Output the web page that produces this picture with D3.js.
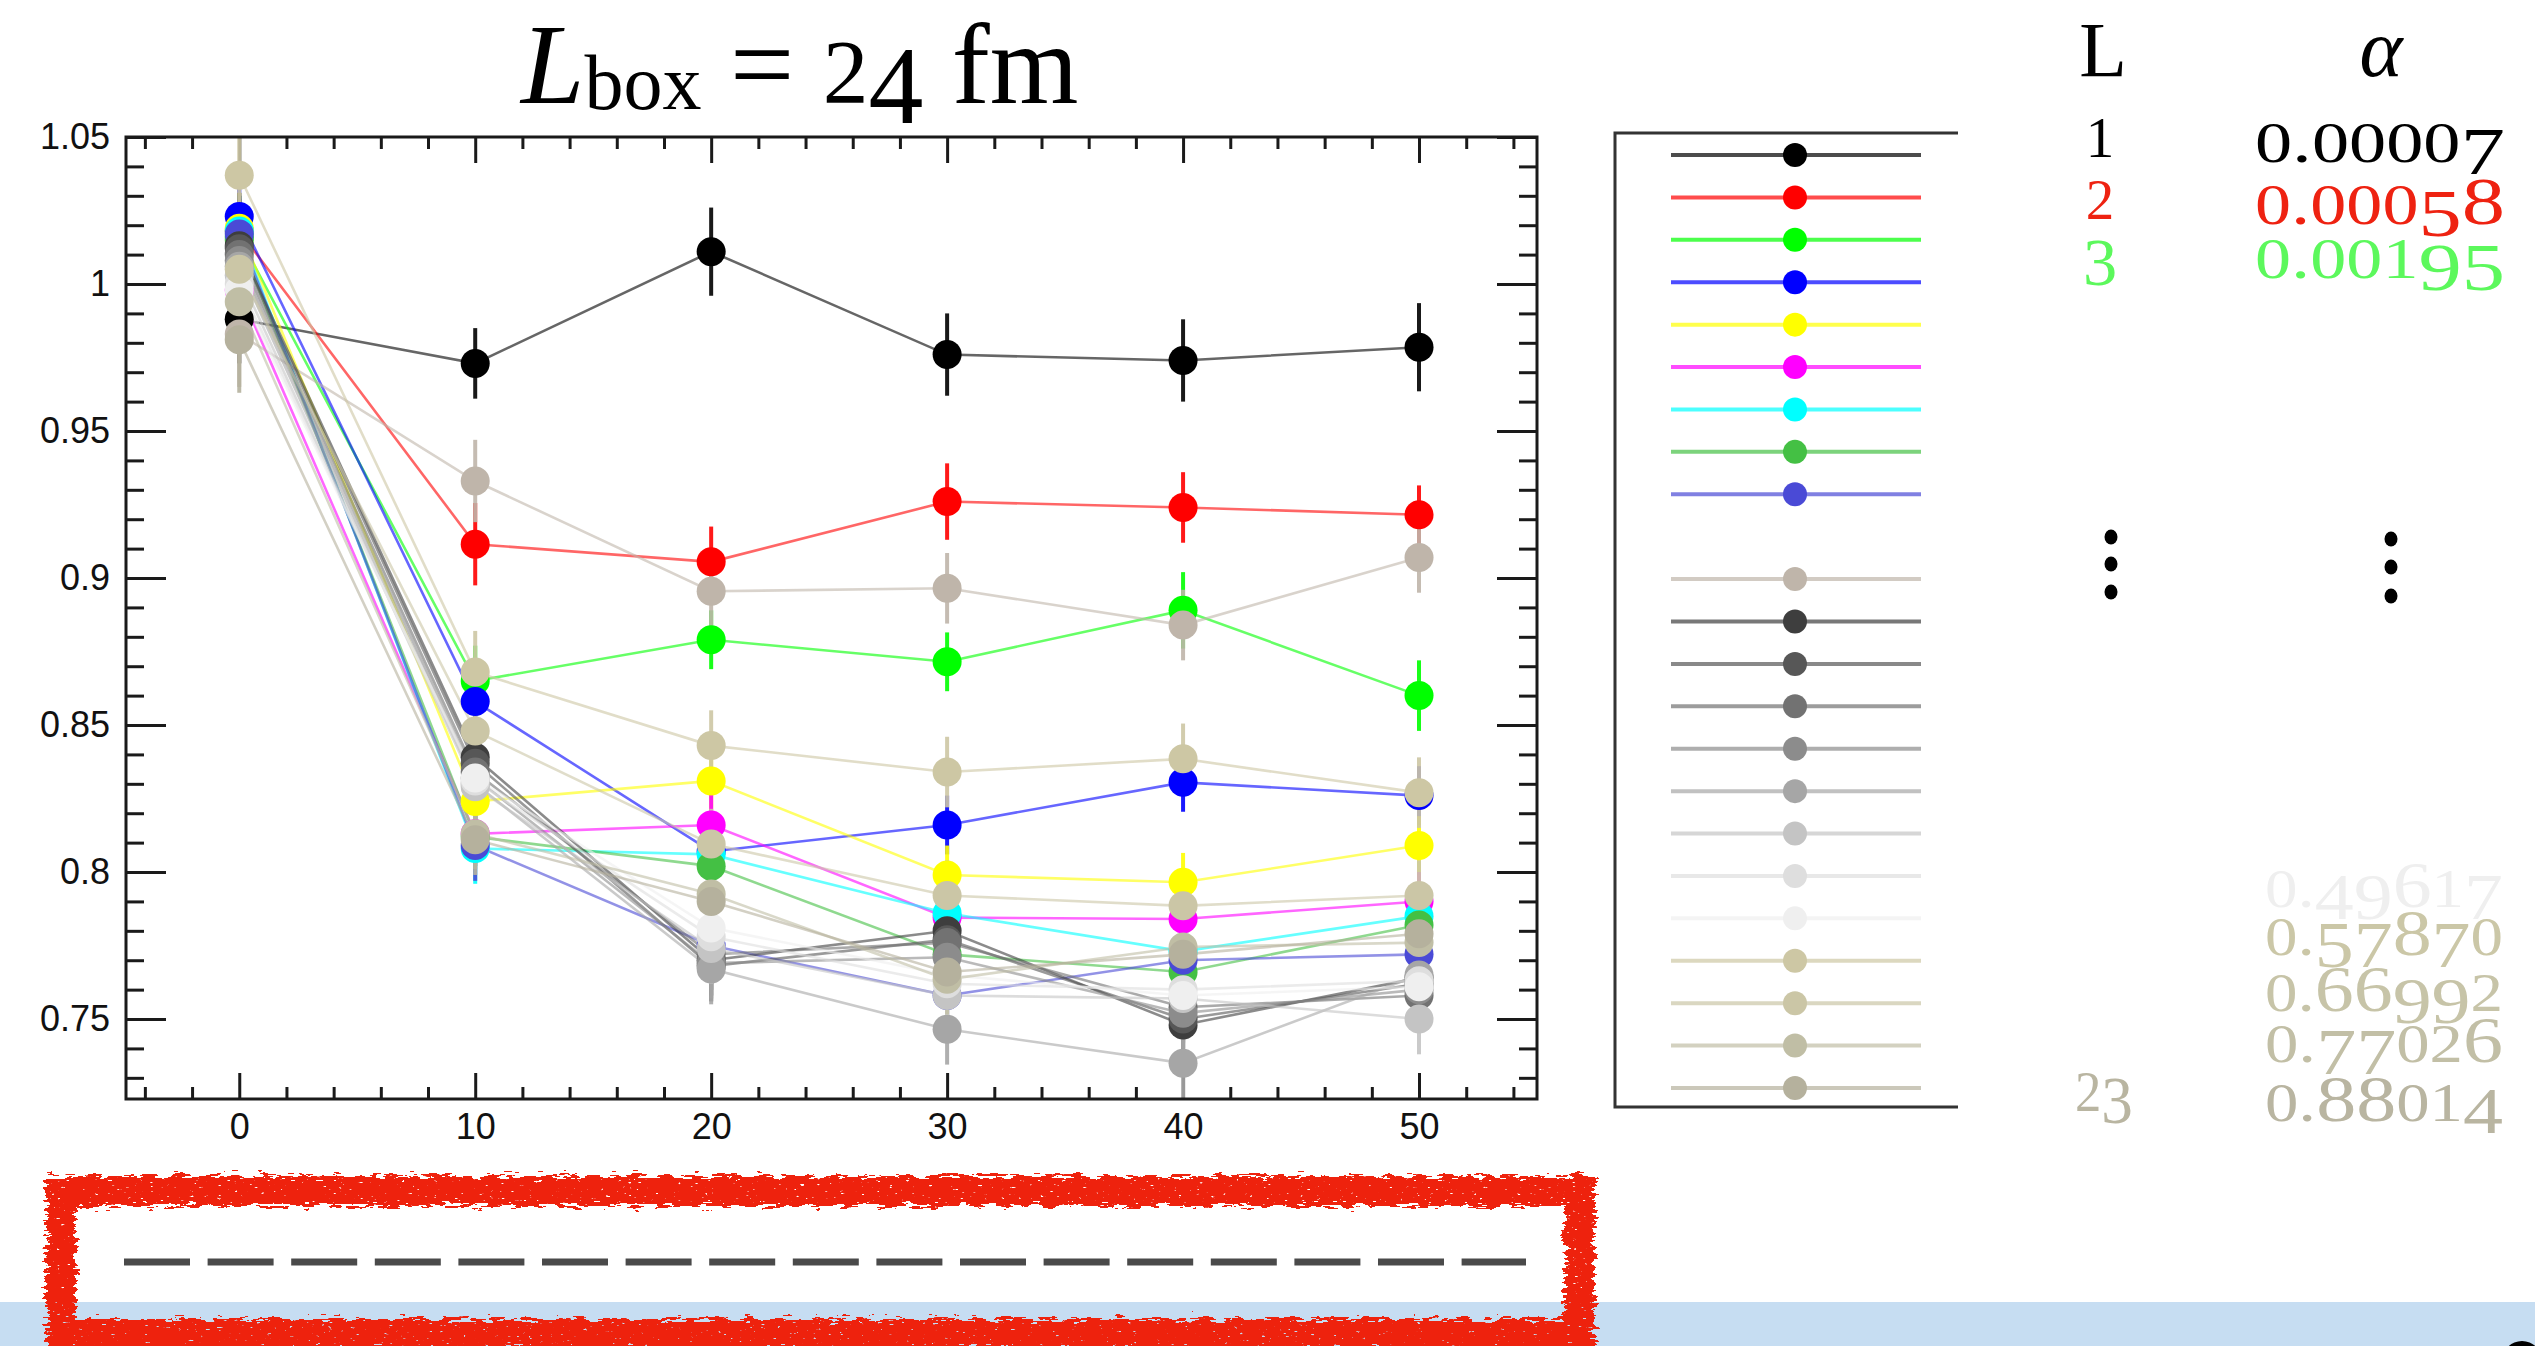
<!DOCTYPE html>
<html><head><meta charset="utf-8">
<script src="https://cdn.jsdelivr.net/npm/d3@7"></script>
<style>
html,body{margin:0;padding:0;background:#fff;overflow:hidden;}
svg{display:block;}
text{white-space:pre;}
</style></head>
<body>
<svg id="chart" width="2535" height="1346"></svg>
<script>
// ---------------- DATA ----------------
const xValues = [0, 10, 20, 30, 40, 50];
const seriesL = [1, 2, 3, 4, 5, 6, 7, 8, 9, 11, 12, 13, 14, 15, 16, 17, 18, 19, 20, 21, 22, 23];
const seriesColors = [
  "#000000", "#ff0000", "#00ff00", "#0000ff", "#ffff00", "#ff00ff", "#00ffff", "#44c044", "#4a4ad6",
  "#bfb5aa", "#3e3e3e", "#575757", "#727272", "#8c8c8c", "#a6a6a6", "#c4c4c4", "#dedede", "#efefef",
  "#cdc7a4", "#cbc6a6", "#c0bea5", "#b5b19d"
];
const seriesValues = [
  [0.988, 0.973, 1.011, 0.976, 0.974, 0.9785],
  [1.018, 0.9115, 0.9055, 0.926, 0.924, 0.9215],
  [1.016, 0.865, 0.879, 0.8715, 0.889, 0.860],
  [1.023, 0.858, 0.807, 0.816, 0.8305, 0.826],
  [1.019, 0.824, 0.831, 0.799, 0.7965, 0.809],
  [0.998, 0.813, 0.816, 0.7845, 0.784, 0.790],
  [1.018, 0.808, 0.806, 0.786, 0.773, 0.785],
  [1.015, 0.812, 0.802, 0.772, 0.766, 0.782],
  [1.017, 0.809, 0.775, 0.758, 0.770, 0.772],
  [0.983, 0.933, 0.8955, 0.8965, 0.884, 0.907],
  [1.013, 0.839, 0.770, 0.780, 0.748, 0.764],
  [1.012, 0.837, 0.768, 0.777, 0.750, 0.762],
  [1.010, 0.834, 0.772, 0.776, 0.754, 0.758],
  [1.008, 0.832, 0.769, 0.771, 0.752, 0.760],
  [1.006, 0.830, 0.767, 0.7465, 0.735, 0.765],
  [1.003, 0.829, 0.774, 0.758, 0.757, 0.750],
  [1.000, 0.831, 0.778, 0.762, 0.760, 0.763],
  [0.998, 0.832, 0.781, 0.765, 0.758, 0.761],
  [1.037, 0.868, 0.843, 0.834, 0.8385, 0.827],
  [1.005, 0.848, 0.8095, 0.792, 0.7885, 0.792],
  [0.994, 0.813, 0.7925, 0.7635, 0.7745, 0.776],
  [0.981, 0.811, 0.790, 0.766, 0.772, 0.779]
];
const seriesErrors = [
  [0.015, 0.012, 0.015, 0.014, 0.014, 0.015],
  [0.012, 0.014, 0.012, 0.013, 0.012, 0.010],
  [0.012, 0.012, 0.010, 0.010, 0.013, 0.012],
  [0.012, 0.011, 0.010, 0.010, 0.010, 0.010],
  [0.012, 0.010, 0.010, 0.010, 0.010, 0.010],
  [0.012, 0.010, 0.012, 0.010, 0.010, 0.010],
  [0.012, 0.012, 0.010, 0.010, 0.010, 0.010],
  [0.012, 0.010, 0.010, 0.010, 0.010, 0.010],
  [0.012, 0.012, 0.010, 0.010, 0.010, 0.010],
  [0.018, 0.014, 0.012, 0.012, 0.012, 0.012],
  [0.018, 0.012, 0.012, 0.012, 0.012, 0.012],
  [0.018, 0.012, 0.012, 0.012, 0.012, 0.012],
  [0.018, 0.012, 0.012, 0.012, 0.012, 0.012],
  [0.018, 0.012, 0.012, 0.012, 0.012, 0.012],
  [0.018, 0.012, 0.012, 0.012, 0.012, 0.012],
  [0.018, 0.012, 0.012, 0.012, 0.012, 0.012],
  [0.018, 0.012, 0.012, 0.012, 0.012, 0.012],
  [0.018, 0.012, 0.012, 0.012, 0.012, 0.012],
  [0.015, 0.014, 0.012, 0.012, 0.012, 0.012],
  [0.018, 0.012, 0.012, 0.012, 0.012, 0.012],
  [0.018, 0.012, 0.012, 0.012, 0.012, 0.012],
  [0.018, 0.012, 0.012, 0.012, 0.012, 0.012]
];
const yMajorTicks = [0.75, 0.8, 0.85, 0.9, 0.95, 1, 1.05];
const yTickLabels = ["0.75", "0.8", "0.85", "0.9", "0.95", "1", "1.05"];
const xMajorTicks = [0, 10, 20, 30, 40, 50];
const xTickLabels = ["0", "10", "20", "30", "40", "50"];
const headerLabels = ["L", "\u03B1"];
const topRowsL = ["1", "2", "3"];
const topRowsAlpha = ["0.00007", "0.00058", "0.00195"];
const topRowsColors = ["#000000", "#ee2211", "#5cf85c"];
const bottomRowsL = ["23"];
const bottomRowsLColors = ["#b9b5a1"];
const bottomRowsAlpha = ["0.49617", "0.57870", "0.66992", "0.77026", "0.88014"];
const bottomRowsColors = ["#efefef", "#cbc7a7", "#c7c4a8", "#c2bfa6", "#b9b5a1"];

// ---------------- LAYOUT ----------------
const svg = d3.select("#chart");
const W = 2535, H = 1346;
const frame = {l: 126, r: 1537, t: 137, b: 1099};
const serif = "'Liberation Serif', 'DejaVu Serif', serif";
const sans = "'Liberation Sans', Arial, Helvetica, sans-serif";

const x = d3.scaleLinear().domain([-4.8, 55]).range([frame.l, frame.r]);
const y = d3.scaleLinear().domain([0.7228, 1.05]).range([frame.b, frame.t]);

const defs = svg.append("defs");
defs.append("clipPath").attr("id", "plotclip").append("rect")
  .attr("x", frame.l).attr("y", frame.t).attr("width", frame.r - frame.l).attr("height", frame.b - frame.t);
const rough = defs.append("filter").attr("id", "rough")
  .attr("x", "-5%").attr("y", "-30%").attr("width", "110%").attr("height", "160%");
rough.append("feTurbulence").attr("type", "fractalNoise").attr("baseFrequency", "0.07 0.3")
  .attr("numOctaves", 3).attr("seed", 4).attr("result", "noise");
rough.append("feDisplacementMap").attr("in", "SourceGraphic").attr("in2", "noise")
  .attr("scale", 18).attr("xChannelSelector", "R").attr("yChannelSelector", "G").attr("result", "disp");
rough.append("feTurbulence").attr("type", "fractalNoise").attr("baseFrequency", "0.18 0.45")
  .attr("numOctaves", 2).attr("seed", 9).attr("result", "speck");
rough.append("feColorMatrix").attr("in", "speck").attr("type", "matrix")
  .attr("values", "0 0 0 0 0  0 0 0 0 0  0 0 0 0 0  12 0 0 0 -2.3").attr("result", "mask");
rough.append("feComposite").attr("in", "disp").attr("in2", "mask").attr("operator", "in");

// old-style figure emulation
function addOldstyle(textSel, str, size, startOff) {
  let off = startOff || 0;
  for (const ch of str) {
    let fs = size * 0.9, shift = 0;
    if ("012".includes(ch)) fs = size * 0.75;
    else if ("34579".includes(ch)) shift = size * 0.16;
    else if (ch === ".") fs = size * 0.8;
    const t = textSel.append("tspan").attr("font-size", fs).text(ch);
    const dy = shift - off;
    if (Math.abs(dy) > 0.001) t.attr("dy", dy);
    off = shift;
  }
  return off;
}

// ---------------- BOTTOM DECORATION ----------------
svg.append("rect").attr("x", 0).attr("y", 1302).attr("width", W).attr("height", H - 1302).attr("fill", "#c6ddf2");
svg.append("circle").attr("cx", 2522).attr("cy", 1361).attr("r", 20).attr("fill", "#000");
svg.append("line").attr("x1", 124).attr("x2", 1526).attr("y1", 1262).attr("y2", 1262)
  .attr("stroke", "#4a4a4a").attr("stroke-width", 7).attr("stroke-dasharray", "66 17.6");
svg.append("rect").attr("x", 61).attr("y", 1191).attr("width", 1519).attr("height", 143)
  .attr("fill", "none").attr("stroke", "#ee2211").attr("stroke-width", 30).attr("filter", "url(#rough)");

// ---------------- TITLE ----------------
const title = svg.append("text").attr("x", 521).attr("y", 103).attr("font-family", serif)
  .attr("font-size", 114).attr("fill", "#000");
title.append("tspan").attr("font-style", "italic").text("L");
title.append("tspan").attr("font-size", 78).attr("dy", 6).text("box");
title.append("tspan").attr("dy", -6).text(" = ");
let toff = addOldstyle(title, "24", 122, 0);
title.append("tspan").attr("font-size", 114).attr("dy", -toff).text(" fm");

// ---------------- AXES ----------------
const yMinor = d3.range(73, 105).map(d => d / 100).filter(v => !yMajorTicks.some(m => Math.abs(m - v) < 1e-6));
const xMinor = d3.range(-4, 56, 2).filter(v => v % 10 !== 0);

function styleAxis(g) {
  g.select(".domain").remove();
  g.selectAll(".tick line").attr("stroke", "#1a1a1a").attr("stroke-width", 3);
  g.selectAll(".tick text").attr("font-family", sans).attr("font-size", 36).attr("fill", "#111");
}
svg.append("g").attr("transform", `translate(${frame.l},0)`)
  .call(d3.axisLeft(y).tickValues(yMajorTicks).tickFormat((d, i) => yTickLabels[i]).tickSize(-40).tickPadding(16)).call(styleAxis);
svg.append("g").attr("transform", `translate(${frame.l},0)`)
  .call(d3.axisLeft(y).tickValues(yMinor).tickFormat("").tickSize(-18)).call(styleAxis);
svg.append("g").attr("transform", `translate(${frame.r},0)`)
  .call(d3.axisRight(y).tickValues(yMajorTicks).tickFormat("").tickSize(-40)).call(styleAxis);
svg.append("g").attr("transform", `translate(${frame.r},0)`)
  .call(d3.axisRight(y).tickValues(yMinor).tickFormat("").tickSize(-18)).call(styleAxis);
svg.append("g").attr("transform", `translate(0,${frame.b})`)
  .call(d3.axisBottom(x).tickValues(xMajorTicks).tickFormat((d, i) => xTickLabels[i]).tickSize(-26).tickPadding(14)).call(styleAxis);
svg.append("g").attr("transform", `translate(0,${frame.b})`)
  .call(d3.axisBottom(x).tickValues(xMinor).tickFormat("").tickSize(-12)).call(styleAxis);
svg.append("g").attr("transform", `translate(0,${frame.t})`)
  .call(d3.axisTop(x).tickValues(xMajorTicks).tickFormat("").tickSize(-26)).call(styleAxis);
svg.append("g").attr("transform", `translate(0,${frame.t})`)
  .call(d3.axisTop(x).tickValues(xMinor).tickFormat("").tickSize(-12)).call(styleAxis);

// ---------------- PLOT ----------------
const series = seriesL.map((L, i) => ({L, color: seriesColors[i], vals: seriesValues[i], errs: seriesErrors[i]}));
const plot = svg.append("g").attr("clip-path", "url(#plotclip)");
const line = d3.line().x((d, i) => x(xValues[i])).y(d => y(d));
plot.append("g").selectAll("path").data(series).join("path")
  .attr("d", s => line(s.vals)).attr("fill", "none")
  .attr("stroke", s => s.color).attr("stroke-opacity", 0.6).attr("stroke-width", 2.6);
const pts = series.flatMap(s => s.vals.map((v, i) => ({s, xv: xValues[i], v, e: s.errs[i]})));
plot.append("g").selectAll("line").data(pts).join("line")
  .attr("x1", d => x(d.xv)).attr("x2", d => x(d.xv))
  .attr("y1", d => y(d.v - d.e)).attr("y2", d => y(d.v + d.e))
  .attr("stroke", d => d.s.color).attr("stroke-width", 4).attr("stroke-opacity", 0.9);
plot.append("g").selectAll("circle").data(pts).join("circle")
  .attr("cx", d => x(d.xv)).attr("cy", d => y(d.v)).attr("r", 14.5)
  .attr("fill", d => d.s.color);

// frame
svg.append("rect").attr("x", frame.l).attr("y", frame.t).attr("width", frame.r - frame.l).attr("height", frame.b - frame.t)
  .attr("fill", "none").attr("stroke", "#1a1a1a").attr("stroke-width", 3);

// ---------------- LEGEND ----------------
const lg = {l: 1615, r: 1958, t: 133, b: 1107, x1: 1671, x2: 1921, xm: 1795};
svg.append("path").attr("d", `M${lg.r},${lg.t}H${lg.l}V${lg.b}H${lg.r}`)
  .attr("fill", "none").attr("stroke", "#333").attr("stroke-width", 3);
const yL = d3.scaleLinear().domain([1, 23]).range([155, 1088]);
const leg = svg.append("g").selectAll("g").data(series).join("g");
leg.append("line").attr("x1", lg.x1).attr("x2", lg.x2).attr("y1", s => yL(s.L)).attr("y2", s => yL(s.L))
  .attr("stroke", s => s.color).attr("stroke-opacity", 0.7).attr("stroke-width", 4);
leg.append("circle").attr("cx", lg.xm).attr("cy", s => yL(s.L)).attr("r", 12).attr("fill", s => s.color);

// ---------------- TABLE TEXT ----------------
const colL = 2100, colA = 2505;
svg.append("text").attr("x", colL + 3).attr("y", 76).attr("text-anchor", "middle")
  .attr("font-family", serif).attr("font-size", 78).attr("fill", "#000").text(headerLabels[0]);
svg.append("text").attr("x", 2381).attr("y", 76).attr("text-anchor", "middle").attr("font-style", "italic")
  .attr("font-family", serif).attr("font-size", 82).attr("fill", "#000").text(headerLabels[1]);

const topLBase = [157, 219, 273], topABase = [162, 224, 278];
topRowsL.forEach((s, i) => {
  const t = svg.append("text").attr("x", colL).attr("y", topLBase[i]).attr("text-anchor", "middle")
    .attr("font-family", serif).attr("fill", topRowsColors[i]);
  addOldstyle(t, s, 76, 0);
});
topRowsAlpha.forEach((s, i) => {
  const t = svg.append("text").attr("x", colA).attr("y", topABase[i]).attr("text-anchor", "end")
    .attr("font-family", serif).attr("fill", topRowsColors[i])
    .attr("textLength", 250).attr("lengthAdjust", "spacingAndGlyphs");
  addOldstyle(t, s, 76, 0);
});
const botABase = [907, 955, 1011, 1062, 1121];
bottomRowsAlpha.forEach((s, i) => {
  const t = svg.append("text").attr("x", colA - 2).attr("y", botABase[i]).attr("text-anchor", "end")
    .attr("font-family", serif).attr("fill", bottomRowsColors[i])
    .attr("textLength", 238).attr("lengthAdjust", "spacingAndGlyphs");
  addOldstyle(t, s, 72, 0);
});
bottomRowsL.forEach((s, i) => {
  const t = svg.append("text").attr("x", colL + 4).attr("y", 1111).attr("text-anchor", "middle")
    .attr("font-family", serif).attr("fill", bottomRowsLColors[i])
    .attr("textLength", 58).attr("lengthAdjust", "spacingAndGlyphs");
  addOldstyle(t, s, 76, 0);
});
// vertical ellipsis marks
const dotsL = [537, 564, 592], dotsA = [539, 567, 596];
svg.append("g").selectAll("ellipse").data(dotsL).join("ellipse")
  .attr("cx", 2111).attr("cy", d => d).attr("rx", 6.5).attr("ry", 7.5).attr("fill", "#000");
svg.append("g").selectAll("ellipse").data(dotsA).join("ellipse")
  .attr("cx", 2391).attr("cy", d => d).attr("rx", 6.5).attr("ry", 7.5).attr("fill", "#000");
</script>
</body></html>
